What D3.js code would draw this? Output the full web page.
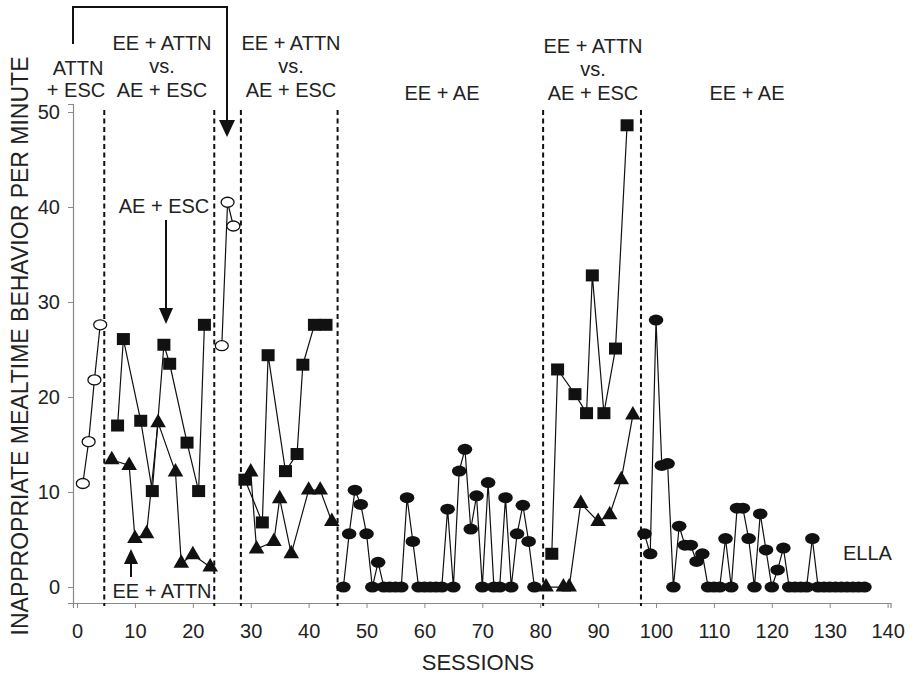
<!DOCTYPE html>
<html><head><meta charset="utf-8">
<script src="https://cdn.jsdelivr.net/npm/d3@7"></script>
<style>
body{margin:0;background:#fff}
text{font-family:"Liberation Sans",Arial,Helvetica,sans-serif;fill:#222}
</style>
</head><body>
<svg id="chart" width="915" height="677"></svg>
<script>
// ---------- DATA ----------
const xTickValues = [0,10,20,30,40,50,60,70,80,90,100,110,120,130,140];
const yTickValues = [0,10,20,30,40,50];
const phaseLines = [4.7, 23.7, 28.3, 45, 80.5, 97.4];

// ATTN + ESC (open circles)
const attnEscA = [[1,10.9],[2,15.3],[3,21.8],[4,27.6]];
const attnEscB = [[25,25.4],[26,40.5],[27,38.0]];

// AE + ESC (squares)
const aeEscA = [[7,17.0],[8,26.1],[11,17.5],[13,10.1],[15,25.5],[16,23.5],[19,15.2],[21,10.1],[22,27.6]];
const aeEscB = [[29,11.3],[32,6.8],[33,24.4],[36,12.2],[38,14.0],[39,23.4],[41,27.6],[43,27.6]];
const aeEscC = [[82,3.5],[83,22.9],[86,20.3],[88,18.3],[89,32.8],[91,18.3],[93,25.1],[95,48.6]];

// EE + ATTN (triangles)
const eeAttnA = [[6,13.4],[9,12.8],[10,5.1],[12,5.6],[14,17.3],[17,12.1],[18,2.5],[20,3.4],[23,2.1]];
const eeAttnB = [[30,12.1],[31,4.0],[34,4.8],[35,9.3],[37,3.5],[40,10.2],[42,10.2],[44,6.9]];
const eeAttnC = [[81,0],[84,0],[85,0],[87,8.8],[90,6.9],[92,7.6],[94,11.3],[96,18.1]];

// EE + AE (filled circles)
const eeAeA = [[46,0],[47,5.6],[48,10.2],[49,8.7],[50,5.6],[51,0],[52,2.6],[53,0],[54,0],[55,0],[56,0],
  [57,9.4],[58,4.8],[59,0],[60,0],[61,0],[62,0],[63,0],[64,8.2],[65,0],[66,12.2],[67,14.5],[68,6.1],
  [69,9.6],[70,0],[71,11.0],[72,0],[73,0],[74,9.4],[75,0],[76,5.6],[77,8.6],[78,4.8],[79,0]];
const eeAeB = [[98,5.6],[99,3.5],[100,28.1],[101,12.8],[102,13.0],[103,0],[104,6.4],[105,4.4],[106,4.4],
  [107,2.7],[108,3.5],[109,0],[110,0],[111,0],[112,5.1],[113,0],[114,8.3],[115,8.3],[116,5.1],[117,0],
  [118,7.7],[119,3.9],[120,0],[121,1.8],[122,4.1],[123,0],[124,0],[125,0],[126,0],[127,5.1],[128,0],
  [129,0],[130,0],[131,0],[132,0],[133,0],[134,0],[135,0],[136,0]];

// ---------- CHART ----------
const svg = d3.select("#chart");
const x = d3.scaleLinear().domain([-0.7, 140.5]).range([73, 890.5]);
const y = d3.scaleLinear().domain([-1.68, 50.84]).range([603, 104]);

// axes
const xAxis = svg.append("g").attr("transform", `translate(0,${y(-1.68)})`)
  .call(d3.axisBottom(x).tickValues(xTickValues).tickSize(5).tickPadding(16).tickFormat(d3.format("d")));
const yAxis = svg.append("g").attr("transform", `translate(${x(-0.7)},0)`)
  .call(d3.axisLeft(y).tickValues(yTickValues).tickSize(5).tickPadding(8));
[xAxis, yAxis].forEach(g => {
  g.select(".domain").attr("stroke", "#8a8a8a").attr("stroke-width", 1.2);
  g.selectAll(".tick line").attr("stroke", "#8a8a8a");
  g.selectAll(".tick text").attr("font-size", 20).attr("fill", "#222")
    .style("font-family", '"Liberation Sans", Arial, sans-serif');
});

// phase lines
svg.append("g").selectAll("line").data(phaseLines).join("line")
  .attr("x1", d => x(d)).attr("x2", d => x(d))
  .attr("y1", 110).attr("y2", 606)
  .attr("stroke", "#111").attr("stroke-width", 2).attr("stroke-dasharray", "5,3.5");

const line = d3.line().x(d => x(d[0])).y(d => y(d[1]));
const allSegs = [attnEscA, attnEscB, aeEscA, aeEscB, aeEscC, eeAttnA, eeAttnB, eeAttnC, eeAeA, eeAeB];
svg.append("g").selectAll("path").data(allSegs).join("path")
  .attr("d", line).attr("fill", "none").attr("stroke", "#111").attr("stroke-width", 1.2);

// markers
const mk = svg.append("g");
mk.selectAll(".oc").data([...attnEscA, ...attnEscB]).join("ellipse")
  .attr("cx", d => x(d[0])).attr("cy", d => y(d[1])).attr("rx", 6.5).attr("ry", 5)
  .attr("fill", "#fff").attr("stroke", "#111").attr("stroke-width", 1.3);
mk.selectAll(".sq").data([...aeEscA, ...aeEscB, ...aeEscC]).join("rect")
  .attr("x", d => x(d[0]) - 6.5).attr("y", d => y(d[1]) - 6).attr("width", 13).attr("height", 12)
  .attr("fill", "#111");
const tri = d3.symbol(d3.symbolTriangle, 105);
mk.selectAll(".tr").data([...eeAttnA, ...eeAttnB, ...eeAttnC]).join("path")
  .attr("d", tri).attr("transform", d => `translate(${x(d[0])},${y(d[1])})`).attr("fill", "#111");
mk.selectAll(".fc").data([...eeAeA, ...eeAeB]).join("ellipse")
  .attr("cx", d => x(d[0])).attr("cy", d => y(d[1])).attr("rx", 7.3).attr("ry", 5.5)
  .attr("fill", "#111");

// annotations
const T = (txt, xx, yy, anchor = "middle", size = 20) =>
  svg.append("text").attr("x", xx).attr("y", yy).attr("text-anchor", anchor).attr("font-size", size).text(txt);

T("ATTN", 78, 75); T("+ ESC", 76, 97);
[[162, 50], [291, 50], [593, 53]].forEach(([cx, by], i) => {
  T("EE + ATTN", cx, by); T("vs.", cx, by + 23); T("AE + ESC", cx, by + 47);
});
T("EE + AE", 442, 100); T("EE + AE", 747, 100);
T("AE + ESC", 164, 213);
T("EE + ATTN", 162, 598);
T("ELLA", 843, 560, "start");
T("SESSIONS", 478, 670, "middle", 22);
svg.append("text").attr("transform", "translate(28,346) rotate(-90)").attr("text-anchor", "middle")
  .attr("font-size", 23).text("INAPPROPRIATE MEALTIME BEHAVIOR PER MINUTE");

// arrows
const arr = svg.append("g").attr("stroke", "#111").attr("fill", "none").attr("stroke-width", 2);
arr.append("path").attr("d", "M73,44V7H227V122");
svg.append("path").attr("d", "M219,120L235,120L227,137Z").attr("fill", "#111");
arr.append("path").attr("d", "M166,220V310");
svg.append("path").attr("d", "M159,308L173,308L166,324Z").attr("fill", "#111");
arr.append("path").attr("d", "M131,577V562");
svg.append("path").attr("d", "M124,564L138,564L131,549Z").attr("fill", "#111");
</script>
</body></html>
